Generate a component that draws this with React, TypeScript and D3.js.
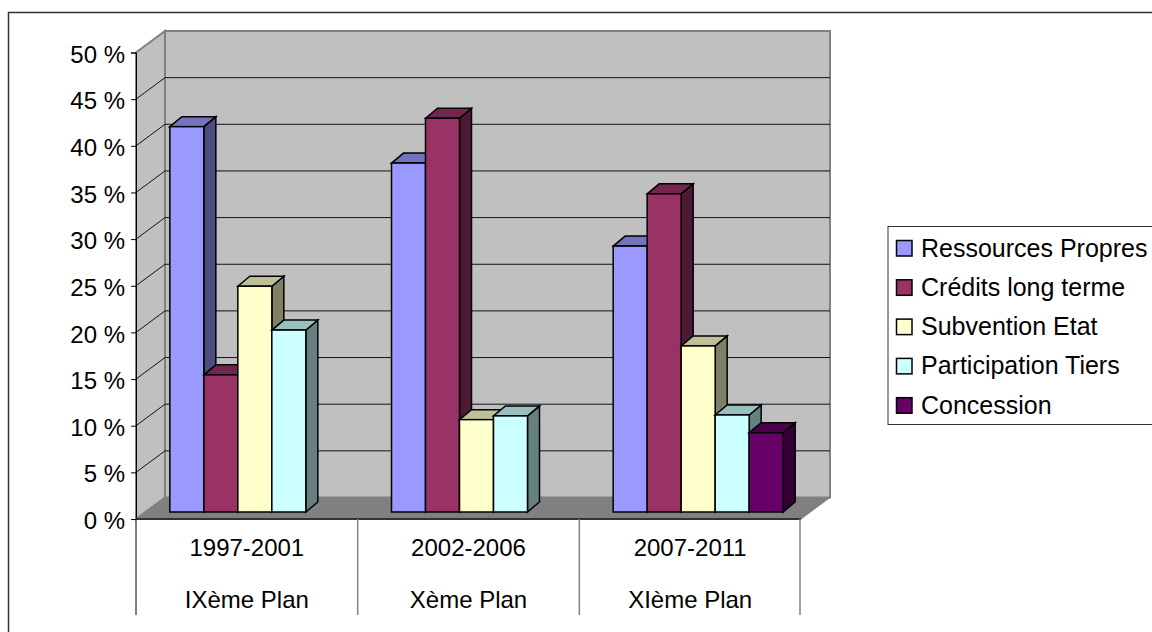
import React, { useEffect, useRef } from 'react';
import * as d3 from 'd3';

const periods = ['1997-2001', '2002-2006', '2007-2011'];
const plans = ['IXème Plan', 'Xème Plan', 'XIème Plan'];
const seriesNames = ['Ressources Propres', 'Crédits long terme', 'Subvention Etat', 'Participation Tiers', 'Concession'];
const ressources = [41.3, 37.4, 28.5];
const credits = [14.7, 42.2, 34.1];
const subvention = [24.2, 9.9, 17.8];
const participation = [19.5, 10.3, 10.4];
const concession = [null, null, 8.5];
const seriesColors = ['#9999ff', '#993366', '#ffffcc', '#ccffff', '#660066'];
const yTicks = [0, 5, 10, 15, 20, 25, 30, 35, 40, 45, 50];

// same hue, scaled down, for the faces of the bars
const shade = (hex: string, k: number) => {
  const c = d3.rgb(hex);
  return d3.rgb(c.r * k, c.g * k, c.b * k).formatHex();
};

const App: React.FC = () => {
  const chartRef = useRef<SVGSVGElement | null>(null);

  useEffect(() => {
    const allSeries = [ressources, credits, subvention, participation, concession];
    const svg = d3.select(chartRef.current);
    svg.selectAll('*').remove();

    const font = '"Liberation Sans", Arial, sans-serif';
    const left = 136, right = 801, bottom = 519, top = 52.5;
    const depthX = 29, depthY = 21.5;

    // outer frame
    svg.append('rect')
      .attr('x', 8.5).attr('y', 12.5)
      .attr('width', 1160).attr('height', 622)
      .attr('fill', 'white').attr('stroke', '#333').attr('stroke-width', 1.5);

    const x = d3.scaleBand<number>().domain([0, 1, 2]).range([left, right]);
    const y = d3.scaleLinear().domain([0, 50]).range([bottom, top]);
    const inner = d3.scaleBand<number>().domain([0, 1, 2, 3, 4]).range([0, x.bandwidth()]).paddingOuter(0.76);

    const pts = (a: [number, number][]) => a.map(p => p.join(',')).join(' ');

    // walls and floor
    svg.append('polygon')
      .attr('points', pts([[left, bottom], [left + depthX, bottom - depthY], [left + depthX, top - depthY], [left, top]]))
      .attr('fill', '#c0c0c0').attr('stroke', '#808080').attr('stroke-width', 2);
    svg.append('rect')
      .attr('x', left + depthX).attr('y', top - depthY)
      .attr('width', right - left).attr('height', bottom - top)
      .attr('fill', '#c0c0c0').attr('stroke', '#808080').attr('stroke-width', 2);
    svg.append('polygon')
      .attr('points', pts([[left, bottom], [right, bottom], [right + depthX, bottom - depthY], [left + depthX, bottom - depthY]]))
      .attr('fill', '#808080').attr('stroke', '#808080');

    // gridlines
    yTicks.slice(1, -1).forEach(t => {
      svg.append('polyline')
        .attr('points', pts([[left, y(t)], [left + depthX, y(t) - depthY], [right + depthX, y(t) - depthY]]))
        .attr('fill', 'none').attr('stroke', '#111').attr('stroke-width', 1);
    });

    // bars
    const barDx = 12, barDy = 10, planeDx = 8, planeDy = 7;
    periods.forEach((_, c) => {
      allSeries.forEach((values, s) => {
        const v = values[c];
        if (v == null) return;
        const x0 = x(c)! + inner(s)! + planeDx;
        const x1 = x0 + inner.bandwidth();
        const yb = bottom - planeDy;
        const yt = y(v) - planeDy;
        svg.append('polygon')
          .attr('points', pts([[x1, yb], [x1 + barDx, yb - barDy], [x1 + barDx, yt - barDy], [x1, yt]]))
          .attr('fill', shade(seriesColors[s], 0.5)).attr('stroke', '#000').attr('stroke-width', 1.5);
        svg.append('polygon')
          .attr('points', pts([[x0, yt], [x0 + barDx, yt - barDy], [x1 + barDx, yt - barDy], [x1, yt]]))
          .attr('fill', shade(seriesColors[s], 0.75)).attr('stroke', '#000').attr('stroke-width', 1.5);
        svg.append('rect')
          .attr('x', x0).attr('y', yt)
          .attr('width', x1 - x0).attr('height', yb - yt)
          .attr('fill', seriesColors[s]).attr('stroke', '#000').attr('stroke-width', 1.5);
      });
    });

    // y axis
    const yAxis = svg.append('g')
      .attr('transform', `translate(${left},0)`)
      .call(d3.axisLeft(y).tickValues(yTicks).tickSize(5).tickPadding(6).tickFormat(d => `${d} %`));
    yAxis.selectAll('text').attr('font-family', font).attr('font-size', 24).attr('dy', '0.4em').attr('fill', '#000');
    yAxis.selectAll('line, path').attr('stroke', '#000');

    // x axis with two label rows
    svg.append('line')
      .attr('x1', left).attr('x2', right).attr('y1', bottom).attr('y2', bottom)
      .attr('stroke', '#333').attr('stroke-width', 2);
    [0, 1, 2, 3].forEach(i => {
      const px = i === 3 ? right - 1 : x(i)!;
      svg.append('line')
        .attr('x1', px).attr('x2', px).attr('y1', bottom).attr('y2', 615)
        .attr('stroke', i === 0 ? '#000' : '#808080').attr('stroke-width', i === 0 ? 1 : 1.5);
    });
    periods.forEach((p, i) => {
      const cx = x(i)! + x.bandwidth() / 2;
      svg.append('text').attr('x', cx).attr('y', 556).attr('text-anchor', 'middle')
        .attr('font-family', font).attr('font-size', 24).text(p);
      svg.append('text').attr('x', cx).attr('y', 607.5).attr('text-anchor', 'middle')
        .attr('font-family', font).attr('font-size', 24).text(plans[i]);
    });

    // legend
    svg.append('rect')
      .attr('x', 888).attr('y', 226.5).attr('width', 300).attr('height', 198)
      .attr('fill', 'white').attr('stroke', '#333').attr('stroke-width', 1);
    seriesNames.forEach((name, i) => {
      const ly = 248 + i * 39.3;
      svg.append('rect')
        .attr('x', 896.5).attr('y', ly - 7.5).attr('width', 15.5).attr('height', 15.5)
        .attr('fill', seriesColors[i]).attr('stroke', '#000').attr('stroke-width', 1.5);
      svg.append('text')
        .attr('x', 921).attr('y', ly + 8.5)
        .attr('font-family', font).attr('font-size', 25).text(name);
    });
  }, []);

  return <svg ref={chartRef} width={1152} height={632} style={{ position: 'absolute', left: 0, top: 0 }}></svg>;
};

export default App;
